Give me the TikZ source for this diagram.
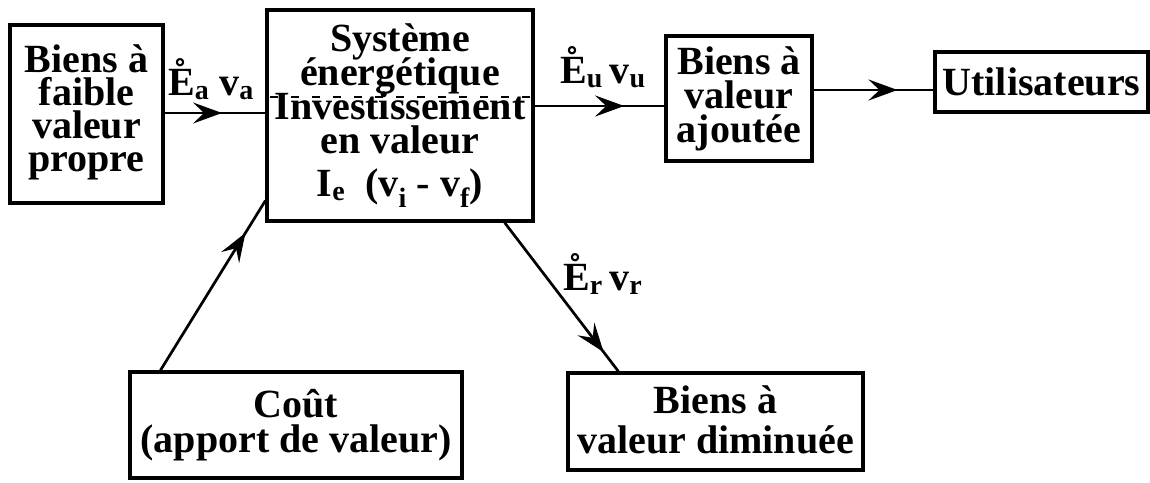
\documentclass[tikz,border=0pt]{standalone}
\usepackage{fontspec}
\setmainfont{Liberation Serif}
\usetikzlibrary{arrows.meta,decorations.markings}
\newcommand\bxt[3]{\raisebox{#1}{\vbox{\fontsize{40}{#2}\selectfont\bfseries
  \lineskiplimit=-100pt\lineskip=0pt\halign{\hfil##\hfil\cr#3\crcr}}}}
\tikzset{
  box/.style={draw, line width=3.2pt, inner sep=0pt},
  lbl/.style={inner sep=0pt, anchor=base west, font=\fontsize{40}{34}\selectfont\bfseries},
  flow/.style={line width=2.7pt, postaction={decorate},
    decoration={markings, mark=at position #1 with {\arrow{Stealth[length=29pt,width=21pt,inset=11pt]}}}},
  artifact/.style={line width=1.4pt, dash pattern=on 8pt off 13pt}
}
\begin{document}
\begin{tikzpicture}[x=1pt,y=-1pt]
\useasboundingbox (0,0) rectangle (1150,482);
\node[box, minimum width=153pt, minimum height=178pt] (A) at (86.5,114)
  {\bxt{12pt}{33}{Biens à\cr faible\cr valeur\cr propre}};
\node[box, minimum width=266pt, minimum height=211pt] (main) at (400,115.5)
  {\bxt{5pt}{34}{Système\cr énergétique\cr Investissement\cr en valeur\cr\noalign{\vskip9pt}
   I\textsubscript{e}\ \ (v\textsubscript{i} - v\textsubscript{f})}};
\node[box, minimum width=146pt, minimum height=125pt] (ajo) at (739,98.5)
  {\bxt{1pt}{34}{Biens à\cr valeur\cr ajoutée}};
\node[box, minimum width=213pt, minimum height=60pt] (util) at (1041.5,82)
  {\bxt{0pt}{34}{Utilisateurs}};
\node[box, minimum width=332pt, minimum height=106pt] (cout) at (296,425)
  {\bxt{-10pt}{35}{Coût\cr (apport de valeur)}};
\node[box, minimum width=295pt, minimum height=97pt] (dim) at (715.5,421.5)
  {\bxt{3pt}{40}{Biens à\cr valeur diminuée}};
\draw[flow=0.57] (A.east |- 0,113) -- (main.west |- 0,113);
\draw[flow=0.69] (main.east |- 0,106) -- (ajo.west |- 0,106);
\draw[flow=0.70] (ajo.east |- 0,90) -- (util.west |- 0,90);
\draw[flow=0.81] ([xshift=32pt]cout.north west) -- ([yshift=22pt]main.south west);
\draw[flow=0.87] ([xshift=-30pt]main.south east) -- ([xshift=52pt]dim.north west);
\draw[artifact] (270,97) -- (537,97);
\node[lbl] (la) at (168,95) {\r{E}\textsubscript{a}\ v\textsubscript{a}};
\node[lbl] (lu) at (560,83) {\r{E}\textsubscript{u}\,v\textsubscript{u}};
\node[lbl] (lr) at (563,290) {\r{E}\textsubscript{r}\,v\textsubscript{r}};
\end{tikzpicture}
\end{document}
